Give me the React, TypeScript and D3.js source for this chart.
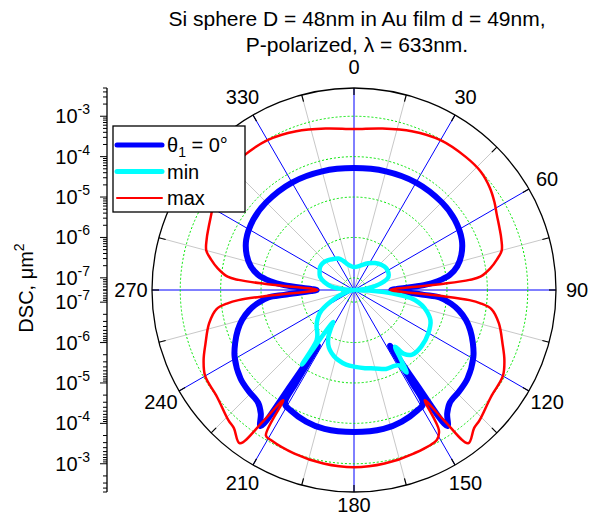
import React from 'react';
import * as d3 from 'd3';

// theta_1 = 0 deg curve (degrees, DSC in um^2)
const anglesTheta0 = [
  0, 15, 30, 45, 55, 65, 72, 77, 81, 84, 86, 88.5, 90, 91.5, 94, 95, 98, 101, 105, 109, 114,
  119.4, 128, 134, 139.6, 143, 145.5, 146.5, 147.2, 148, 148.7, 152, 160, 168, 180, 192, 200,
  208, 211.3, 212, 212.8, 213.5, 214.5, 217, 220.4, 226, 232, 240.6, 246, 251, 255, 259, 262,
  265, 266, 268.5, 270, 271.5, 274, 276, 279, 283, 288, 295, 305, 315, 330, 345,
];
const dscTheta0 = [
  5.2e-5, 5.5e-5, 5.9e-5, 5.9e-5, 5.5e-5, 4.4e-5, 3.1e-5, 2.1e-5, 1.26e-5, 6.0e-6, 2.7e-6,
  5.8e-7, 4.2e-7, 5.8e-7, 2.7e-6, 6.7e-6, 1.33e-5, 2.2e-5, 3.7e-5, 5.5e-5, 8.3e-5, 1.23e-4,
  1.83e-4, 2.06e-4, 2.3e-4, 3.4e-4, 6.1e-4, 2.6e-5, 2.2e-6, 2.6e-5, 9.8e-5, 1.16e-4, 1.46e-4,
  1.64e-4, 1.64e-4, 1.64e-4, 1.46e-4, 1.16e-4, 9.8e-5, 2.6e-5, 2.2e-6, 2.6e-5, 6.1e-4, 3.4e-4,
  2.3e-4, 2.06e-4, 1.83e-4, 1.23e-4, 8.3e-5, 5.5e-5, 3.7e-5, 2.2e-5, 1.33e-5, 6.7e-6, 2.7e-6,
  5.8e-7, 4.2e-7, 5.8e-7, 2.7e-6, 6.0e-6, 1.26e-5, 2.1e-5, 3.1e-5, 4.4e-5, 5.5e-5, 5.9e-5,
  5.9e-5, 5.5e-5,
];

// min curve
const anglesMin = [
  0, 10, 17, 28, 38, 48, 56, 63, 69, 76, 83, 87, 90, 92, 94, 96, 98, 101, 104.5, 111.5, 120,
  130, 138, 142, 144, 146, 147.5, 149, 152, 158, 165, 172, 179, 186, 192.6, 197, 201.8, 205.5,
  208.8, 211, 213.1, 214.9, 216.5, 220, 226, 232, 238, 246, 253, 260, 266, 272, 275, 278.4,
  285, 291.4, 298, 304.4, 312, 319.4, 326, 333.7, 340, 347, 353,
];
const dscMin = [
  1.85e-7, 1.96e-7, 2.2e-7, 2.8e-7, 3.5e-7, 4.2e-7, 4.6e-7, 4.5e-7, 4.1e-7, 2.5e-7, 1.1e-7,
  7.0e-8, 4.0e-8, 1.17e-7, 2.8e-7, 6.5e-7, 1.29e-6, 2.15e-6, 3.2e-6, 5.4e-6, 6.7e-6, 7.5e-6,
  7.1e-6, 5.1e-6, 2.7e-6, 6.0e-6, 1.33e-5, 7.5e-6, 6.7e-6, 6.4e-6, 5.1e-6, 4.5e-6, 4.0e-6,
  3.6e-6, 3.0e-6, 2.55e-6, 2.0e-6, 1.53e-6, 1.03e-6, 6.5e-7, 4.4e-7, 8.9e-6, 1.8e-6, 1.29e-6,
  9.7e-7, 6.9e-7, 4.4e-7, 1.66e-7, 8.4e-8, 5.9e-8, 4.0e-8, 7.9e-8, 1.1e-7, 1.8e-7, 2.9e-7,
  4.0e-7, 4.6e-7, 5.2e-7, 5.2e-7, 4.75e-7, 4.2e-7, 3.7e-7, 2.9e-7, 2.2e-7, 1.96e-7,
];

// max curve
const anglesMax = [
  0, 10, 20, 30, 40, 47, 53, 58, 62, 67, 71, 75, 78, 81, 84, 85, 86, 87, 88.5, 90, 91.5, 93, 94,
  95, 96, 98, 103, 110, 115, 120, 128, 136, 139, 143.3, 145.3, 147.3, 148.8, 151, 160, 170,
  180, 190, 200, 209, 211.2, 212.7, 214.7, 216.7, 221, 224, 232, 240, 245, 250, 257, 262,
  264, 265, 266, 267, 268.5, 270, 271.5, 273, 274, 275, 276, 279, 282, 285, 289, 293, 298, 302,
  307, 313, 320, 330, 340, 350,
];
const dscMax = [
  4.8e-4, 5.7e-4, 7.6e-4, 9.6e-4, 1.0e-3, 9.8e-4, 8.1e-4, 6.3e-4, 5.0e-4, 4.1e-4, 3.6e-4,
  3.05e-4, 2.06e-4, 1.3e-4, 7.0e-5, 3.7e-5, 8.4e-6, 1.7e-6, 5.2e-7, 4.0e-7, 5.2e-7, 1.7e-6,
  8.4e-6, 3.7e-5, 7.0e-5, 1.38e-4, 2.4e-4, 4.1e-4, 6.4e-4, 9.0e-4, 1.0e-3, 1.5e-3, 1.7e-3,
  2.7e-3, 4.6e-4, 8.7e-5, 5.7e-4, 8.6e-4, 1.02e-3, 1.15e-3, 1.22e-3, 1.15e-3, 1.02e-3, 8.8e-4,
  8.1e-4, 8.7e-5, 4.6e-4, 2.7e-3, 1.7e-3, 1.5e-3, 1.0e-3, 9.0e-4, 6.4e-4, 4.1e-4, 2.4e-4,
  1.38e-4, 7.0e-5, 3.7e-5, 8.4e-6, 1.7e-6, 5.2e-7, 4.0e-7, 5.2e-7, 1.7e-6, 8.4e-6, 3.7e-5,
  7.0e-5, 1.3e-4, 2.06e-4, 3.05e-4, 3.6e-4, 4.1e-4, 5.0e-4, 6.3e-4, 8.1e-4, 9.8e-4, 1.0e-3,
  9.6e-4, 7.6e-4, 5.7e-4,
];

const radialMajor = [1e-7, 1e-6, 1e-5, 1e-4, 1e-3];
// 300 sits under the legend in the original, so it is not shown
const angleLabels = [0, 30, 60, 90, 120, 150, 180, 210, 240, 270, 330];
const titleLines = ['Si sphere D = 48nm in Au film d = 49nm,', 'P-polarized, \u03bb = 633nm.'];

const series = [
  { name: 'theta0', angles: anglesTheta0, values: dscTheta0, color: '#0000ff', width: 6, legendWidth: 5 },
  { name: 'min', angles: anglesMin, values: dscMin, color: '#00ffff', width: 4.5, legendWidth: 5 },
  { name: 'max', angles: anglesMax, values: dscMax, color: '#ff0000', width: 2.5, legendWidth: 2 },
];

const App = () => (
  <div
    ref={(elem) => {
      if (!elem) {
        return;
      }
      elem.innerHTML = '';
      elem.appendChild(chart(603, 517));
    }}
  />
);

const chart = (width: number, height: number) => {
  const cx = 354;
  const cy = 290;
  const R = 202;
  const axisX = 107;
  const font = 'Liberation Sans, Arial, Helvetica, sans-serif';
  const rad = (a: number) => (a * Math.PI) / 180;

  const r = d3.scaleLog().domain([5e-8, 5e-3]).range([0, R]).clamp(true);

  const svg = d3
    .create('svg')
    .attr('width', width)
    .attr('height', height)
    .attr('viewBox', `0 0 ${width} ${height}`)
    .style('position', 'absolute')
    .style('left', '0px')
    .style('top', '0px')
    .style('font-family', font);

  svg.append('rect').attr('width', width).attr('height', height).attr('fill', 'white');

  // title
  svg
    .append('g')
    .selectAll('text')
    .data(titleLines)
    .join('text')
    .attr('x', 357)
    .attr('y', (d, i) => 26 + i * 26)
    .attr('text-anchor', 'middle')
    .attr('font-size', 21)
    .text((d) => d);

  const g = svg.append('g').attr('transform', `translate(${cx},${cy})`);

  // spokes
  g.append('g')
    .selectAll('line')
    .data(d3.range(15, 360, 30))
    .join('line')
    .attr('x2', (a) => R * Math.sin(rad(a)))
    .attr('y2', (a) => -R * Math.cos(rad(a)))
    .attr('stroke', '#c8c8c8')
    .attr('stroke-width', 1);
  g.append('g')
    .selectAll('line')
    .data(d3.range(0, 360, 30))
    .join('line')
    .attr('x2', (a) => R * Math.sin(rad(a)))
    .attr('y2', (a) => -R * Math.cos(rad(a)))
    .attr('stroke', '#0000ff')
    .attr('stroke-width', 1);

  // decade circles
  g.append('g')
    .selectAll('circle')
    .data(radialMajor)
    .join('circle')
    .attr('r', (v) => r(v))
    .attr('fill', 'none')
    .attr('stroke', '#00e600')
    .attr('stroke-width', 1)
    .attr('stroke-dasharray', '2,2');

  // data curves
  const line = d3
    .lineRadial<[number, number]>()
    .angle((d) => rad(d[0]))
    .radius((d) => r(d[1]))
    .curve(d3.curveCatmullRomClosed.alpha(0.5));

  g.append('g')
    .selectAll('path')
    .data(series)
    .join('path')
    .attr('d', (s) => line(s.angles.map((a, i) => [a, s.values[i]] as [number, number])))
    .attr('fill', 'none')
    .attr('stroke', (s) => s.color)
    .attr('stroke-width', (s) => s.width)
    .attr('stroke-linejoin', 'round');

  // outer circle and angular ticks
  g.append('circle').attr('r', R).attr('fill', 'none').attr('stroke', 'black').attr('stroke-width', 1.3);
  g.append('g')
    .selectAll('line')
    .data(d3.range(0, 360, 15))
    .join('line')
    .attr('x1', (a) => (R - 7) * Math.sin(rad(a)))
    .attr('y1', (a) => -(R - 7) * Math.cos(rad(a)))
    .attr('x2', (a) => R * Math.sin(rad(a)))
    .attr('y2', (a) => -R * Math.cos(rad(a)))
    .attr('stroke', 'black')
    .attr('stroke-width', 1.2);

  g.append('g')
    .selectAll('text')
    .data(angleLabels)
    .join('text')
    .attr('x', (a) => 223 * Math.sin(rad(a)))
    .attr('y', (a) => -(a === 180 ? 215 : 223) * Math.cos(rad(a)))
    .attr('dy', '0.36em')
    .attr('text-anchor', 'middle')
    .attr('font-size', 20)
    .text((a) => a);

  // left radial axis (mirrored log scale)
  const ax = svg.append('g');
  ax.append('line')
    .attr('x1', axisX)
    .attr('x2', axisX)
    .attr('y1', cy - R)
    .attr('y2', cy + R)
    .attr('stroke', 'black')
    .attr('stroke-width', 1.3);
  const ticks = r.ticks();
  const isMajor = (v: number) => Math.abs(Math.log10(v) - Math.round(Math.log10(v))) < 1e-6;
  [-1, 1].forEach((side) => {
    ax.append('g')
      .selectAll('line')
      .data(ticks)
      .join('line')
      .attr('x1', (v) => axisX - (isMajor(v) ? 7 : 4))
      .attr('x2', axisX)
      .attr('y1', (v) => cy + side * r(v))
      .attr('y2', (v) => cy + side * r(v))
      .attr('stroke', 'black')
      .attr('stroke-width', 1);
    const lbl = ax
      .append('g')
      .selectAll('text')
      .data(radialMajor)
      .join('text')
      .attr('x', 90)
      .attr('y', (v) => cy + side * r(v) + 7)
      .attr('text-anchor', 'end')
      .attr('font-size', 20);
    lbl.append('tspan').text('10');
    lbl
      .append('tspan')
      .attr('dy', -9)
      .attr('font-size', 14)
      .text((v) => `-${Math.round(-Math.log10(v))}`);
  });

  // y axis title
  const yt = svg
    .append('text')
    .attr('transform', `translate(33,288) rotate(-90)`)
    .attr('text-anchor', 'middle')
    .attr('font-size', 20);
  yt.append('tspan').text('DSC, \u03bcm');
  yt.append('tspan').attr('dy', -9).attr('font-size', 14).text('2');

  // legend
  const lg = svg.append('g');
  lg.append('rect')
    .attr('x', 113)
    .attr('y', 126)
    .attr('width', 132)
    .attr('height', 86)
    .attr('fill', 'white')
    .attr('stroke', 'black')
    .attr('stroke-width', 1.3);
  const items = lg
    .selectAll('g')
    .data(series)
    .join('g')
    .attr('transform', (d, i) => `translate(0,${145 + i * 26.5})`);
  items
    .append('line')
    .attr('x1', 117)
    .attr('x2', 162)
    .attr('stroke', (s) => s.color)
    .attr('stroke-width', (s) => s.legendWidth)
    .attr('stroke-linecap', 'round');
  const lt = items.append('text').attr('x', 167).attr('y', 7).attr('font-size', 20);
  lt.each(function (s) {
    const t = d3.select(this);
    if (s.name === 'theta0') {
      t.append('tspan').text('\u03b8');
      t.append('tspan').attr('dy', 5).attr('font-size', 14).text('1');
      t.append('tspan').attr('dy', -5).text(' = 0\u00b0');
    } else {
      t.text(s.name);
    }
  });

  return svg.node() as SVGSVGElement;
};

export default App;
